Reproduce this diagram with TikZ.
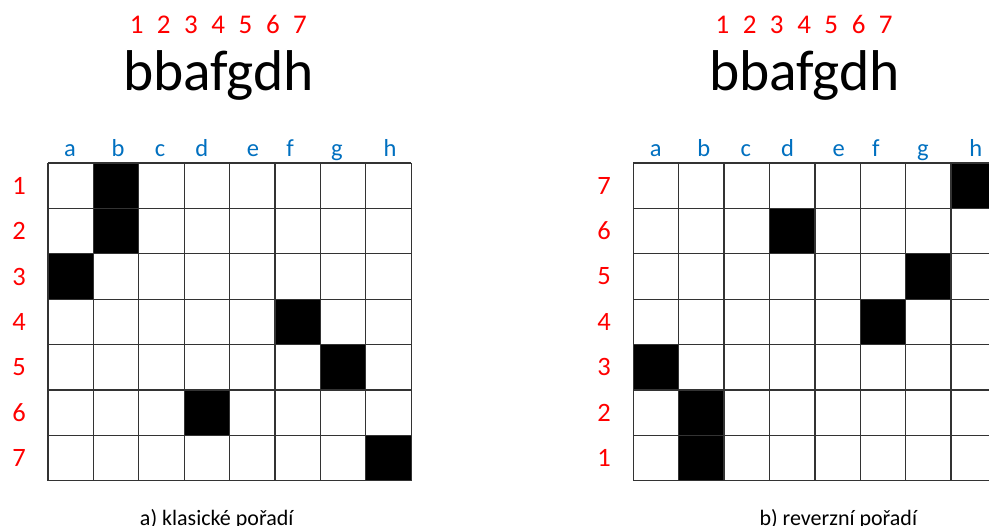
\documentclass[tikz,border=0pt]{standalone}
\usepackage{fontspec}
\setmainfont{Carlito}
\definecolor{redc}{RGB}{255,0,0}
\definecolor{bluec}{RGB}{0,112,192}
\begin{document}
\begin{tikzpicture}[x=1pt,y=-1pt,
  gl/.style={draw=black!80,line width=1.3pt},
  topnum/.style={text=redc,font=\fontsize{27}{31}\selectfont,anchor=base,inner sep=0pt},
  bigtxt/.style={font=\fontsize{57.5}{66}\selectfont,anchor=base,inner sep=0pt},
  collab/.style={text=bluec,font=\fontsize{24.5}{28}\selectfont,anchor=base,inner sep=0pt},
  rowlab/.style={text=redc,font=\fontsize{26.5}{30}\selectfont,anchor=center,inner sep=0pt},
  capt/.style={font=\fontsize{22}{26}\selectfont,anchor=base,inner sep=0pt}]
\useasboundingbox (0,0) rectangle (989,526);
\clip (0,0) rectangle (989,526);
\fill[white] (0,0) rectangle (989,526);
% black cells
\foreach \r/\c in {1/2,2/2,3/1,4/6,5/7,6/4,7/8}{
  \fill[black] (48+\c*45.4-45.4,163+\r*45.4-45.4) rectangle +(45.4,45.4);
  \fill[black] (633.3+\c*45.4-45.4,163+7*45.4-\r*45.4) rectangle +(45.4,45.4);
}
% grids
\foreach \gx in {48,633.3}{
  \foreach \i in {0,...,8} \draw[gl] (\gx+\i*45.4,163) -- (\gx+\i*45.4,480.8);
  \foreach \j in {0,...,7} \draw[gl] (\gx,163+\j*45.4) -- (\gx+363.2,163+\j*45.4);
}
% top numbers
\foreach \n/\x in {1/136.7,2/163.8,3/191,4/218.3,5/245.5,6/273,7/300}{
  \node[topnum] (tl\n) at (\x,34) {\n};
  \node[topnum] (tr\n) at (\x+585.8,34) {\n};
}
\node[bigtxt] (wl) at (218.5,91) {bbafgdh};
\node[bigtxt] (wr) at (804.3,91) {bbafgdh};
% column labels
\foreach \l/\x in {a/70,b/118,c/160,d/201.7,e/253,f/290,g/337,h/390}{
  \node[collab] (cl\l) at (\x,157) {\l};
  \node[collab] (cr\l) at (\x+585.8,157) {\l};
}
% row labels
\foreach \r in {1,...,7}{
  \node[rowlab] (rl\r) at (19,163+\r*45.4-22.7) {\r};
  \node[rowlab] (rr\r) at (604,163+8*45.4-\r*45.4-22.7) {\r};
}
\node[capt] (ca) at (216.7,526) {a) klasické pořadí};
\node[capt] (cb) at (838.3,526) {b) reverzní pořadí};
\end{tikzpicture}
\end{document}
